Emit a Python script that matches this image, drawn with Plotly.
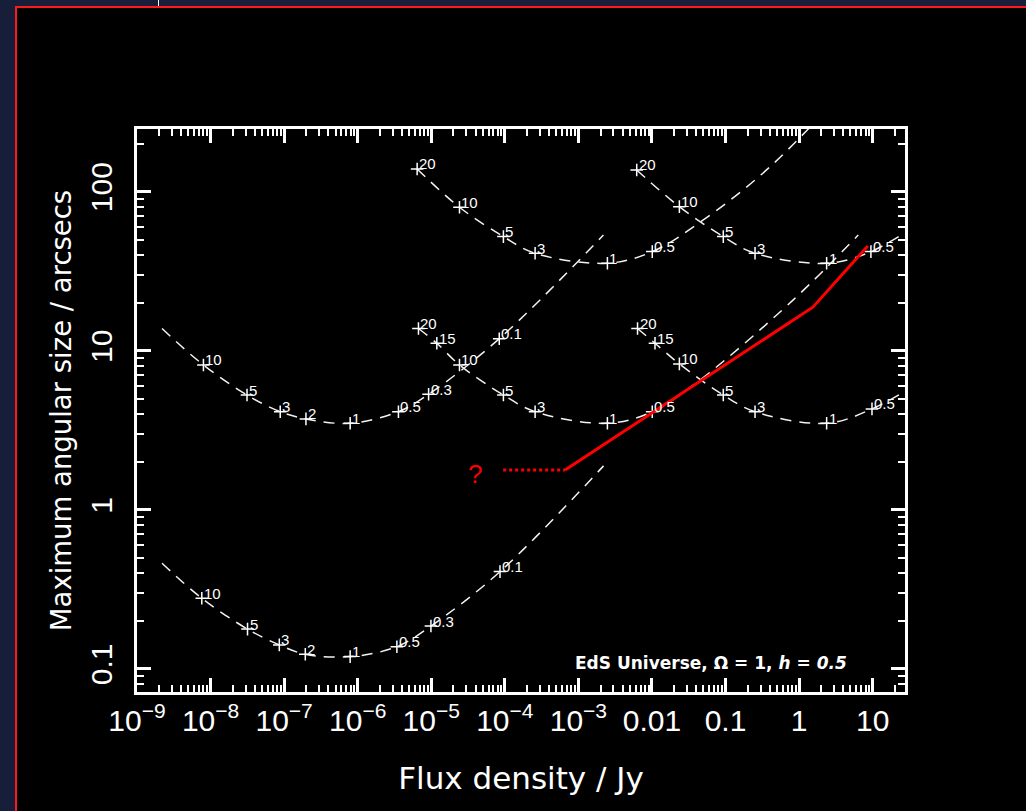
import numpy as np
import plotly.graph_objects as go

# ---- tracks: flux density (Jy), largest angular size (arcsec), redshift tag ----
# ("" marks a point on the track that carries no redshift tag)
a_flux = [2.19e-9, 7.6e-9, 3.18e-8, 8.6e-8, 1.94e-7, 7.9e-7, 3.41e-6, 9.9e-6, 8.6e-5, 2.2e-3]
a_size = [0.462, 0.278, 0.178, 0.1416, 0.1237, 0.1195, 0.138, 0.186, 0.409, 1.89]
a_z = ["", "10", "5", "3", "2", "1", "0.5", "0.3", "0.1", ""]

b_flux = [2.19e-9, 8.0e-9, 3.13e-8, 8.85e-8, 1.98e-7, 7.9e-7, 3.58e-6, 9.2e-6, 8.4e-5, 2.19e-3]
b_size = [13.8, 8.14, 5.27, 4.14, 3.73, 3.50, 4.14, 5.33, 11.9, 53.4]
b_z = ["", "10", "5", "3", "2", "1", "0.5", "0.3", "0.1", ""]

c_flux = [6.43e-6, 2.42e-5, 9.57e-5, 2.58e-4, 2.48e-3, 0.0101, 0.0499, 0.403, 6.3]
c_size = [139.0, 79.8, 52.2, 41.0, 35.5, 42.0, 66.4, 143.5, 533.0]
c_z = ["20", "10", "5", "3", "1", "0.5", "", "", ""]

d_flux = [6.7e-6, 1.19e-5, 2.42e-5, 9.57e-5, 2.58e-4, 2.48e-3, 0.0101, 0.045, 0.834, 6.37]
d_size = [13.8, 11.15, 8.14, 5.27, 4.14, 3.50, 4.14, 6.55, 20.9, 53.4]
d_z = ["20", "15", "10", "5", "3", "1", "0.5", "", "", ""]

e_flux = [6.21e-3, 0.0236, 0.0933, 0.252, 2.37, 9.48, 49.9]
e_size = [137.0, 80.5, 52.2, 41.0, 35.5, 42.0, 66.4]
e_z = ["20", "10", "5", "3", "1", "0.5", ""]

f_flux = [6.37e-3, 0.0110, 0.0236, 0.0933, 0.252, 2.37, 9.8, 49.8]
f_size = [13.8, 11.15, 8.27, 5.27, 4.14, 3.50, 4.31, 6.55]
f_z = ["20", "15", "10", "5", "3", "1", "0.5", ""]

# observed relation (solid red) and its faint-end limit (dotted red)
obs_flux = [6.6e-4, 1.54, 8.6]
obs_size = [1.78, 18.8, 45.6]
limit_flux = [9.5e-5, 6.6e-4]
limit_size = [1.78, 1.78]
query_flux = [3.95e-5]
query_size = [1.61]

# axis ticks
x_tick_vals = [1e-9, 1e-8, 1e-7, 1e-6, 1e-5, 1e-4, 1e-3, 0.01, 0.1, 1, 10]
x_tick_text = ["10<sup>\u22129</sup>", "10<sup>\u22128</sup>", "10<sup>\u22127</sup>",
               "10<sup>\u22126</sup>", "10<sup>\u22125</sup>", "10<sup>\u22124</sup>",
               "10<sup>\u22123</sup>", "0.01", "0.1", "1", "10"]
y_tick_vals = [0.1, 1, 10, 100]
y_tick_text = ["0.1", "1", "10", "100"]

tracks = [(a_flux, a_size, a_z), (b_flux, b_size, b_z), (c_flux, c_size, c_z),
          (d_flux, d_size, d_z), (e_flux, e_size, e_z), (f_flux, f_size, f_z)]

# ---- page geometry ----
W, H = 1026, 811
L, R, T, B = 137, 905, 129, 692
FONT = "Liberation Sans, Arial, sans-serif"
WIDE = "DejaVu Sans, sans-serif"


def px_x(p):
    return (p - L) / (R - L)


def px_y(p):
    return (B - p) / (B - T)


fig = go.Figure()

for flux, size, zs in tracks:
    fig.add_trace(go.Scatter(
        x=flux, y=size, mode="lines",
        line=dict(color="#f2f2f2", width=1.5, dash="11px,8px", shape="spline", smoothing=1.0),
        hoverinfo="skip", showlegend=False))
    mx = [f for f, z in zip(flux, zs) if z]
    my = [s for s, z in zip(size, zs) if z]
    fig.add_trace(go.Scatter(
        x=mx, y=my, mode="markers",
        marker=dict(symbol="cross-thin", size=9, color="white", line=dict(color="white", width=1.5)),
        hoverinfo="skip", showlegend=False))
    for f, s, z in zip(flux, size, zs):
        if z:
            fig.add_annotation(x=np.log10(f), y=np.log10(s), text=z, showarrow=False,
                               xanchor="left", yanchor="middle", xshift=0, yshift=5,
                               font=dict(family=FONT, size=15, color="white"))

fig.add_trace(go.Scatter(x=limit_flux, y=limit_size, mode="lines",
                         line=dict(color="#ff0000", width=3, dash="3px,3px"),
                         hoverinfo="skip", showlegend=False))
fig.add_trace(go.Scatter(x=obs_flux, y=obs_size, mode="lines",
                         line=dict(color="#ff0000", width=3),
                         hoverinfo="skip", showlegend=False))
fig.add_trace(go.Scatter(x=query_flux, y=query_size, mode="text", text=["?"],
                         textfont=dict(family=FONT, size=26, color="#ff0000"),
                         hoverinfo="skip", showlegend=False))

fig.add_annotation(xref="paper", yref="paper", x=px_x(849), y=px_y(663),
                   text="<b>EdS Universe, \u03a9 = 1, <i>h</i> = <i>0.5</i></b>",
                   showarrow=False, xanchor="right", yanchor="middle",
                   font=dict(family=WIDE, size=17, color="white"))

minor_x = [k * 10.0 ** e for e in range(-9, 2) for k in range(2, 10)]
minor_y = [k * 10.0 ** e for e in range(-2, 3) for k in range(2, 10)]

axis_common = dict(type="log", showline=True, linecolor="white", linewidth=3, mirror="allticks",
                   ticks="inside", ticklen=14, tickwidth=2.5, tickcolor="white",
                   showgrid=False, zeroline=False, tickmode="array",
                   tickfont=dict(family=FONT, size=30, color="white"))

fig.update_xaxes(**axis_common, range=[-9, 1.44], tickvals=x_tick_vals, ticktext=x_tick_text,
                 minor=dict(ticks="inside", ticklen=7, tickwidth=2, tickcolor="white",
                            tickmode="array", tickvals=minor_x, showgrid=False),
                 title=dict(text="Flux density / Jy", font=dict(family=WIDE, size=31, color="white"),
                            standoff=32))
fig.update_yaxes(**axis_common, range=[-1.145, 2.394], tickvals=y_tick_vals, ticktext=y_tick_text,
                 tickangle=-90, ticklabelstandoff=10,
                 minor=dict(ticks="inside", ticklen=7, tickwidth=2, tickcolor="white",
                            tickmode="array", tickvals=minor_y, showgrid=False),
                 title=dict(text="Maximum angular size / arcsecs",
                            font=dict(family=WIDE, size=27.5, color="white"), standoff=6))

# window border: navy strips on the left and top, a thin red rule inside them
navy = "#161e3a"
shapes = [
    dict(type="rect", xref="paper", yref="paper", x0=px_x(0), x1=px_x(15), y0=px_y(H), y1=px_y(0),
         fillcolor=navy, line=dict(width=0), layer="below"),
    dict(type="rect", xref="paper", yref="paper", x0=px_x(0), x1=px_x(W), y0=px_y(6), y1=px_y(0),
         fillcolor=navy, line=dict(width=0), layer="below"),
    dict(type="line", xref="paper", yref="paper", x0=px_x(16), x1=px_x(16), y0=px_y(H), y1=px_y(6),
         line=dict(color="#ff1a1a", width=2)),
    dict(type="line", xref="paper", yref="paper", x0=px_x(15), x1=px_x(W), y0=px_y(7), y1=px_y(7),
         line=dict(color="#ff1a1a", width=2)),
    dict(type="line", xref="paper", yref="paper", x0=px_x(158.5), x1=px_x(158.5), y0=px_y(6), y1=px_y(0),
         line=dict(color="white", width=1)),
]

fig.update_layout(width=W, height=H, margin=dict(l=L, r=W - R, t=T, b=H - B, pad=0),
                  paper_bgcolor="black", plot_bgcolor="black", shapes=shapes,
                  font=dict(family=FONT, color="white"))

fig.write_html("out.html")
